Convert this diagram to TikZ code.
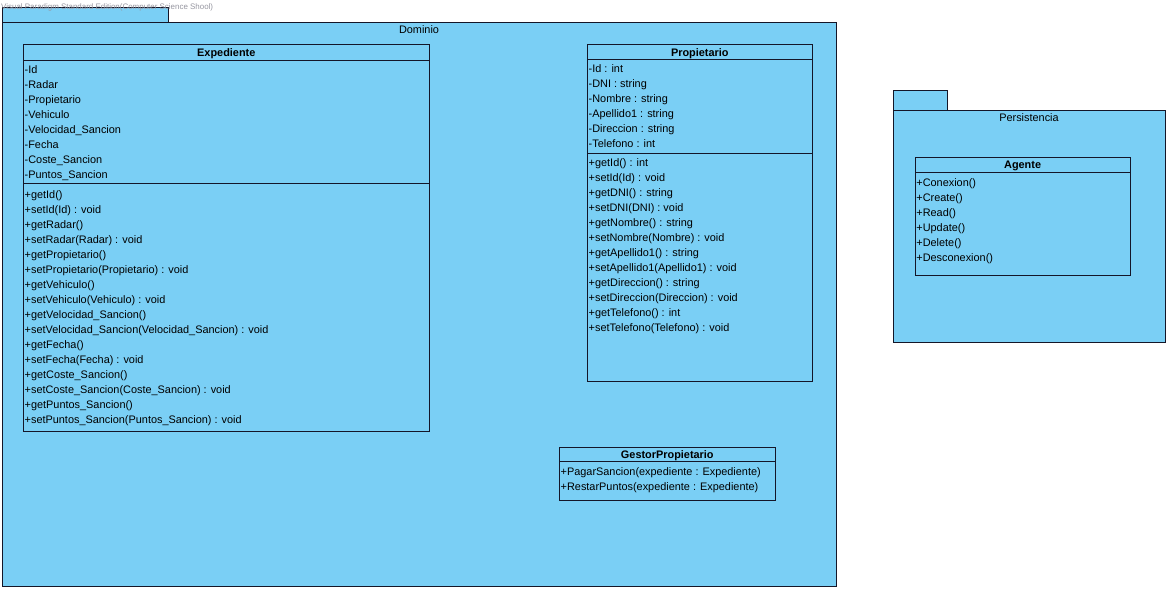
\documentclass[tikz,border=0pt]{standalone}
\usepackage{fontspec}
\setmainfont{Liberation Sans}
\definecolor{fillc}{RGB}{122,207,245}
\definecolor{linec}{RGB}{20,22,40}
\definecolor{wmc}{RGB}{150,150,160}
\begin{document}
\begin{tikzpicture}[x=1pt,y=-1pt,
  pkg/.style={draw=linec, fill=fillc, line width=0.9pt},
  cls/.style={draw=linec, fill=fillc, line width=0.9pt},
  sep/.style={draw=linec, line width=0.9pt},
  txt/.style={anchor=base west, inner sep=0pt, font=\fontsize{10.9}{12}\selectfont, text=black},
  ttl/.style={anchor=base, inner sep=0pt, font=\bfseries\fontsize{10.9}{12}\selectfont, text=black},
  plbl/.style={anchor=base, inner sep=0pt, font=\fontsize{10.9}{12}\selectfont, text=black}]
\useasboundingbox (0,0) rectangle (1170,591);
\fill[white] (0,0) rectangle (1170,591);

% ---------- Dominio package ----------
\draw[pkg] (2,7.5) rectangle (168,22);
\draw[pkg] (2,22) rectangle (836,586);
\node[plbl] (dominio) at (419,34) {Dominio};
\node[anchor=base west, inner sep=0pt, text=wmc, font=\fontsize{7.95}{9}\selectfont] (wm) at (1,9.8) {Visual Paradigm Standard Edition(Computer Science Shool)};

% ---------- Persistencia package ----------
\draw[pkg] (893.3,90) rectangle (947.7,110);
\draw[pkg] (893.3,110) rectangle (1165.5,342.3);
\node[plbl] (persist) at (1029,121.7) {Persistencia};

% ---------- Expediente ----------
\draw[cls] (23.3,44) rectangle (429.3,431);
\draw[sep] (23.3,60) -- (429.3,60);
\draw[sep] (23.3,183) -- (429.3,183);
\node[ttl] (expT) at (226.3,56.7) {Expediente};
\foreach \t [count=\i from 0] in {-Id,-Radar,-Propietario,-Vehiculo,-Velocidad\_Sancion,-Fecha,-Coste\_Sancion,-Puntos\_Sancion}
  \node[txt] (expA\i) at (24.5,73.3+15*\i) {\t};
\foreach \t [count=\i from 0] in {+getId(),+setId(Id) : void,+getRadar(),+setRadar(Radar) : void,+getPropietario(),+setPropietario(Propietario) : void,+getVehiculo(),+setVehiculo(Vehiculo) : void,+getVelocidad\_Sancion(),+setVelocidad\_Sancion(Velocidad\_Sancion) : void,+getFecha(),+setFecha(Fecha) : void,+getCoste\_Sancion(),+setCoste\_Sancion(Coste\_Sancion) : void,+getPuntos\_Sancion(),+setPuntos\_Sancion(Puntos\_Sancion) : void}
  \node[txt] (expM\i) at (24.5,198.3+15*\i) {\t};

% ---------- Propietario ----------
\draw[cls] (587.3,44.5) rectangle (812.3,381.7);
\draw[sep] (587.3,59.3) -- (812.3,59.3);
\draw[sep] (587.3,153.3) -- (812.3,153.3);
\node[ttl] (proT) at (699.8,56.2) {Propietario};
\foreach \t [count=\i from 0] in {-Id : int,-DNI : string,-Nombre : string,-Apellido1 : string,-Direccion : string,-Telefono : int}
  \node[txt] (proA\i) at (588.5,72.7+15*\i) {\t};
\foreach \t [count=\i from 0] in {+getId() : int,+setId(Id) : void,+getDNI() : string,+setDNI(DNI) : void,+getNombre() : string,+setNombre(Nombre) : void,+getApellido1() : string,+setApellido1(Apellido1) : void,+getDireccion() : string,+setDireccion(Direccion) : void,+getTelefono() : int,+setTelefono(Telefono) : void}
  \node[txt] (proM\i) at (588.5,166.7+15*\i) {\t};

% ---------- GestorPropietario ----------
\draw[cls] (559.3,447.3) rectangle (775.3,500);
\draw[sep] (559.3,461.7) -- (775.3,461.7);
\node[ttl] (gesT) at (667.3,458.3) {GestorPropietario};
\node[txt] (gesM0) at (560.5,475.3) {+PagarSancion(expediente : Expediente)};
\node[txt] (gesM1) at (560.5,490.3) {+RestarPuntos(expediente : Expediente)};

% ---------- Agente ----------
\draw[cls] (915,157.3) rectangle (1130.3,275);
\draw[sep] (915,172.3) -- (1130.3,172.3);
\node[ttl] (ageT) at (1022.6,168.6) {Agente};
\foreach \t [count=\i from 0] in {+Conexion(),+Create(),+Read(),+Update(),+Delete(),+Desconexion()}
  \node[txt] (ageM\i) at (916.2,186+15*\i) {\t};
\end{tikzpicture}
\end{document}
